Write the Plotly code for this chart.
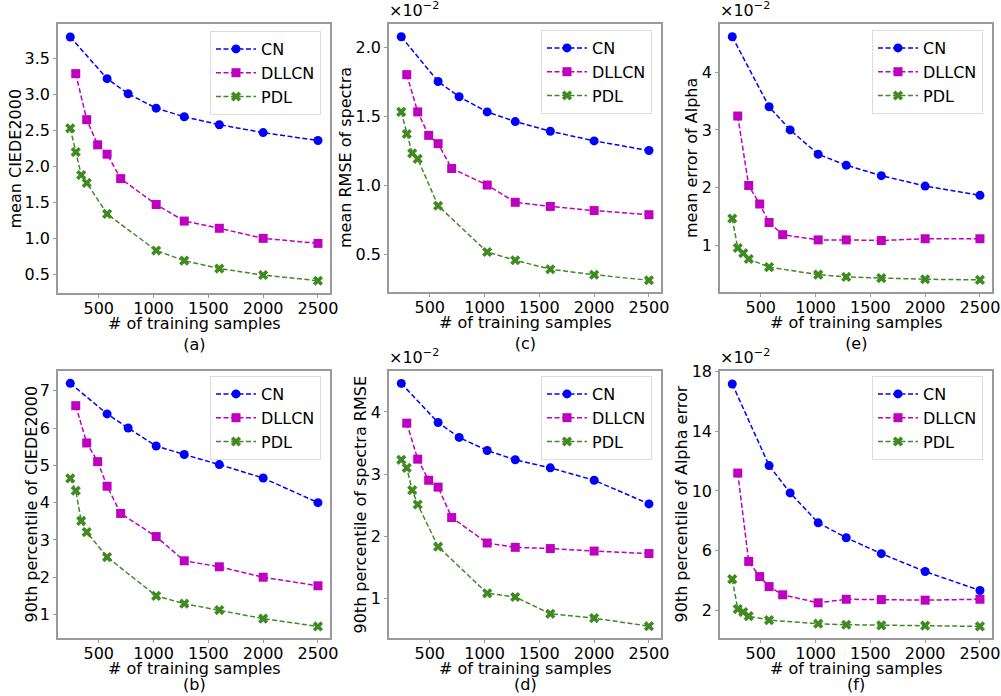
import plotly.graph_objects as go

# x values (number of training samples)
x_cn = [240, 576, 768, 1024, 1280, 1600, 2000, 2500]
x_dllcn = [290, 390, 490, 576, 700, 1024, 1280, 1600, 2000, 2500]
x_pdl = [240, 290, 340, 390, 576, 1024, 1280, 1600, 2000, 2500]

# (a) mean CIEDE2000
a_cn = [3.80, 3.22, 3.01, 2.81, 2.69, 2.58, 2.47, 2.36]
a_dllcn = [3.29, 2.65, 2.30, 2.17, 1.83, 1.47, 1.24, 1.14, 1.00, 0.93]
a_pdl = [2.53, 2.20, 1.88, 1.77, 1.34, 0.83, 0.69, 0.58, 0.49, 0.41]

# (c) mean RMSE of spectra (x1e-2)
c_cn = [2.075, 1.75, 1.64, 1.53, 1.46, 1.39, 1.32, 1.25]
c_dllcn = [1.80, 1.53, 1.36, 1.30, 1.12, 1.00, 0.875, 0.845, 0.815, 0.785]
c_pdl = [1.53, 1.37, 1.23, 1.19, 0.85, 0.515, 0.455, 0.39, 0.35, 0.31]

# (e) mean error of Alpha (x1e-2)
e_cn = [4.61, 3.40, 3.00, 2.58, 2.39, 2.21, 2.03, 1.87]
e_dllcn = [3.24, 2.04, 1.72, 1.40, 1.19, 1.10, 1.10, 1.09, 1.12, 1.12]
e_pdl = [1.47, 0.96, 0.87, 0.77, 0.63, 0.50, 0.46, 0.44, 0.42, 0.41]

# (b) 90th percentile of CIEDE2000
b_cn = [7.20, 6.38, 6.00, 5.52, 5.29, 5.02, 4.66, 4.00]
b_dllcn = [6.60, 5.60, 5.10, 4.44, 3.71, 3.09, 2.44, 2.28, 2.00, 1.77]
b_pdl = [4.65, 4.32, 3.51, 3.21, 2.54, 1.50, 1.29, 1.12, 0.89, 0.68]

# (d) 90th percentile of spectra RMSE (x1e-2)
d_cn = [4.46, 3.83, 3.59, 3.38, 3.23, 3.10, 2.90, 2.52]
d_dllcn = [3.82, 3.24, 2.90, 2.79, 2.30, 1.89, 1.82, 1.80, 1.76, 1.72]
d_pdl = [3.23, 3.10, 2.74, 2.51, 1.83, 1.08, 1.02, 0.75, 0.68, 0.55]

# (f) 90th percentile of Alpha error (x1e-2)
f_cn = [17.18, 11.70, 9.87, 7.86, 6.86, 5.79, 4.59, 3.32]
f_dllcn = [11.20, 5.27, 4.25, 3.58, 3.03, 2.49, 2.73, 2.71, 2.67, 2.73]
f_pdl = [4.08, 2.07, 1.87, 1.60, 1.33, 1.09, 1.02, 0.98, 0.96, 0.91]

series_names = ["CN", "DLLCN", "PDL"]
x_ticks = [500, 1000, 1500, 2000, 2500]

W, H = 1001, 696
FONT = "DejaVu Sans"
BLUE, MAG, GRN = "#0000ff", "#bf00bf", "#3f8b22"
FRAME = "#9a9a9a"

panels = [
    dict(d=(a_cn, a_dllcn, a_pdl), px=(58, 330), py=(24, 293), yr=[0.24, 3.98],
         yt=[0.5, 1.0, 1.5, 2.0, 2.5, 3.0, 3.5], fmt=".1f", title="mean CIEDE2000", tx=15,
         lab="(a)", sci=False, lr=321, lt=31),
    dict(d=(c_cn, c_dllcn, c_pdl), px=(389, 661), py=(24, 292), yr=[0.225, 2.167],
         yt=[0.5, 1.0, 1.5, 2.0], fmt=".1f", title="mean RMSE of spectra", tx=345,
         lab="(c)", sci=True, lr=652, lt=30),
    dict(d=(e_cn, e_dllcn, e_pdl), px=(720, 992), py=(24, 292), yr=[0.20, 4.83],
         yt=[1, 2, 3, 4], fmt="d", title="mean error of Alpha", tx=691,
         lab="(e)", sci=True, lr=983, lt=30),
    dict(d=(b_cn, b_dllcn, b_pdl), px=(58, 330), py=(371, 638), yr=[0.37, 7.53],
         yt=[1, 2, 3, 4, 5, 6, 7], fmt="d", title="90th percentile of CIEDE2000", tx=31,
         lab="(b)", sci=False, lr=321, lt=376),
    dict(d=(d_cn, d_dllcn, d_pdl), px=(389, 661), py=(371, 638), yr=[0.36, 4.66],
         yt=[1, 2, 3, 4], fmt="d", title="90th percentile of spectra RMSE", tx=360,
         lab="(d)", sci=True, lr=652, lt=376),
    dict(d=(f_cn, f_dllcn, f_pdl), px=(720, 992), py=(371, 638), yr=[0.13, 18.05],
         yt=[2, 6, 10, 14, 18], fmt="d", title="90th percentile of Alpha error", tx=681,
         lab="(f)", sci=True, lr=983, lt=376),
]

fig = go.Figure()
annotations = []
layout = {}

styles = [
    dict(color=BLUE, symbol="circle", size=9),
    dict(color=MAG, symbol="square", size=9),
    dict(color=GRN, symbol="x", size=9),
]
xs = [x_cn, x_dllcn, x_pdl]
tfont = dict(family=FONT, size=16, color="black")

for i, p in enumerate(panels):
    n = i + 1
    xa = "x" if n == 1 else f"x{n}"
    ya = "y" if n == 1 else f"y{n}"
    leg = "legend" if n == 1 else f"legend{n}"
    for k in range(3):
        st = styles[k]
        fig.add_trace(go.Scatter(
            x=xs[k], y=p["d"][k], mode="lines+markers", name=series_names[k],
            xaxis=xa, yaxis=ya, legend=leg,
            line=dict(color=st["color"], width=1.5, dash="5px,2.5px"),
            marker=dict(color=st["color"], symbol=st["symbol"], size=st["size"],
                        line=dict(width=0)),
        ))
    x0, x1 = p["px"]
    y0, y1 = p["py"]
    axis_common = dict(showline=True, linecolor=FRAME, linewidth=1.5, mirror=True,
                       ticks="outside", ticklen=3, tickcolor=FRAME, showgrid=False,
                       zeroline=False, automargin=False, tickfont=tfont)
    layout["xaxis" if n == 1 else f"xaxis{n}"] = dict(
        domain=[x0 / W, x1 / W], range=[128, 2610], tickvals=x_ticks,
        anchor=ya, ticklabelstandoff=-3, **axis_common)
    layout["yaxis" if n == 1 else f"yaxis{n}"] = dict(
        domain=[1 - y1 / H, 1 - y0 / H], range=p["yr"], tickvals=p["yt"],
        tickformat=p["fmt"], anchor=xa, **axis_common)
    layout[leg] = dict(
        x=p["lr"] / W, y=1 - p["lt"] / H, xanchor="right", yanchor="top",
        xref="paper", yref="paper", itemwidth=40,
        bgcolor="white", bordercolor="#dddddd", borderwidth=1,
        font=tfont, tracegroupgap=0,
    )
    cx = (x0 + x1) / 2
    annotations.append(dict(x=p["tx"] / W, y=1 - (y0 + y1) / 2 / H, xref="paper", yref="paper",
                            text=p["title"], textangle=-90, showarrow=False,
                            xanchor="center", yanchor="middle", font=tfont))
    if y1 + 60 > H:
        annotations.append(dict(x=cx / W, y=1 - (y1 + 30) / H, xref="paper", yref="paper",
                                text="# of training samples", showarrow=False,
                                xanchor="center", yanchor="middle", font=tfont))
        annotations.append(dict(x=cx / W, y=0, xref="paper", yref="paper",
                                text=p["lab"], showarrow=False,
                                xanchor="center", yanchor="bottom", font=tfont))
    else:
        annotations.append(dict(x=cx / W, y=1 - (y1 + 41) / H, xref="paper", yref="paper",
                                text="# of training samples<br>" + p["lab"], showarrow=False,
                                xanchor="center", yanchor="middle", font=tfont))
    if p["sci"]:
        annotations.append(dict(x=(x0 - 2) / W, y=1 - (y0 - 2) / H, xref="paper", yref="paper",
                                text="×10<sup>−2</sup>", showarrow=False,
                                xanchor="left", yanchor="bottom", font=tfont))

fig.update_layout(
    width=W, height=H, margin=dict(l=0, r=0, t=0, b=0, autoexpand=False),
    plot_bgcolor="white", paper_bgcolor="white",
    annotations=annotations, showlegend=True,
    font=tfont,
    **layout,
)

fig.write_html("out.html", config={"displayModeBar": False},
               post_script="document.body.style.margin='0';")
